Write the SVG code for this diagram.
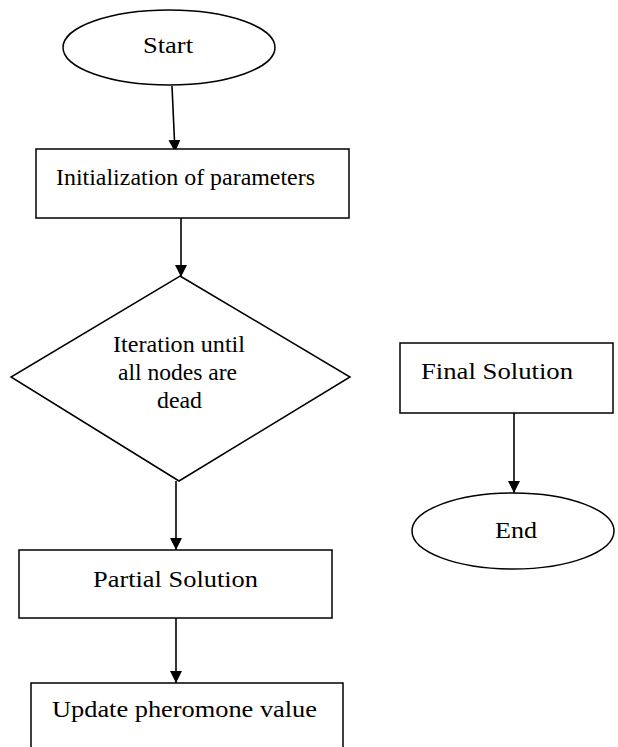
<svg xmlns="http://www.w3.org/2000/svg" width="618" height="747" viewBox="0 0 618 747">
<style>
.s{fill:#fff;stroke:#000;stroke-width:1.5}
.c{stroke:#000;stroke-width:1.6;fill:none;marker-end:url(#ah)}
</style>
<defs>
<marker id="ah" viewBox="0 0 12 12" refX="12" refY="6" markerWidth="12" markerHeight="12" markerUnits="userSpaceOnUse" orient="auto">
<path d="M0,0 L12,6 L0,12 Z" fill="#000"/>
</marker>
</defs>
<rect width="618" height="747" fill="#fff"/>
<g id="connectors">
<line class="c" x1="172" y1="86" x2="175" y2="152"/>
<line class="c" x1="181" y1="218" x2="181" y2="277"/>
<line class="c" x1="176" y1="481" x2="176" y2="550"/>
<line class="c" x1="176" y1="618" x2="176" y2="683"/>
<line class="c" x1="514" y1="413" x2="514" y2="493"/>
</g>
<g font-family="'Liberation Serif', 'Times New Roman', serif" font-size="24" fill="#000">
<g id="start">
<ellipse class="s" cx="169" cy="47.5" rx="106" ry="37.5"/>
<text x="143" y="53" textLength="50" lengthAdjust="spacingAndGlyphs">Start</text>
</g>
<g id="init">
<rect class="s" x="36" y="149" width="313" height="69"/>
<text x="56" y="185" textLength="259" lengthAdjust="spacingAndGlyphs">Initialization of parameters</text>
</g>
<g id="iteration">
<polygon class="s" points="180,276 350,377 179,481 11,377"/>
<text x="113" y="352" textLength="132" lengthAdjust="spacingAndGlyphs">Iteration until</text>
<text x="118" y="380" textLength="119" lengthAdjust="spacingAndGlyphs">all nodes are</text>
<text x="157" y="408" textLength="45" lengthAdjust="spacingAndGlyphs">dead</text>
</g>
<g id="partial">
<rect class="s" x="19" y="550" width="313" height="68"/>
<text x="93" y="587" textLength="165" lengthAdjust="spacingAndGlyphs">Partial Solution</text>
</g>
<g id="update">
<rect class="s" x="31" y="683" width="312" height="80"/>
<text x="52" y="717" textLength="265" lengthAdjust="spacingAndGlyphs">Update pheromone value</text>
</g>
<g id="final">
<rect class="s" x="400" y="343" width="213" height="70"/>
<text x="421" y="379" textLength="152" lengthAdjust="spacingAndGlyphs">Final Solution</text>
</g>
<g id="end">
<ellipse class="s" cx="513" cy="531" rx="101" ry="38"/>
<text x="495" y="538" textLength="42" lengthAdjust="spacingAndGlyphs">End</text>
</g>
</g>
</svg>
